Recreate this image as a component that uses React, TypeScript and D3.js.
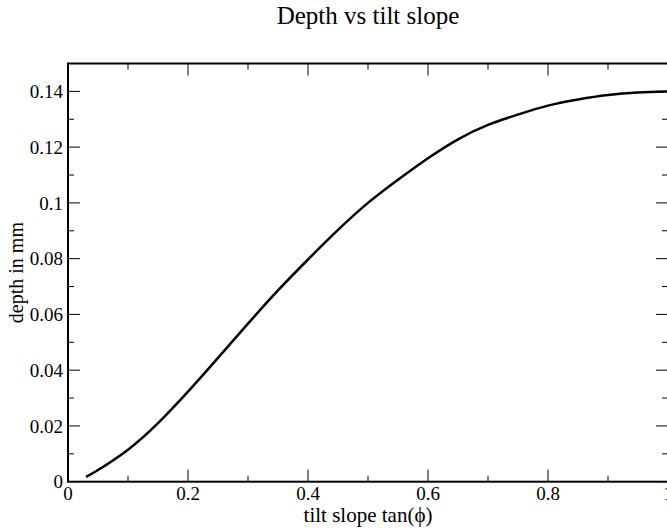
import React from "react";
import * as d3 from "d3";

const xValues = [0.03, 0.05, 0.1, 0.15, 0.2, 0.25, 0.3, 0.35, 0.4, 0.45, 0.5, 0.55, 0.6, 0.65, 0.7, 0.75, 0.8, 0.85, 0.9, 0.95, 1.0];
const depthValues = [0.0017, 0.0042, 0.0115, 0.0210, 0.0323, 0.0444, 0.0567, 0.0686, 0.0797, 0.0903, 0.1000, 0.1083, 0.1160, 0.1228, 0.1280, 0.1317, 0.1349, 0.1371, 0.1387, 0.1396, 0.1400];
const xMajorTicks = [0, 0.2, 0.4, 0.6, 0.8, 1];
const xTickLabels = ["0", "0.2", "0.4", "0.6", "0.8", "1"];
const xMinorTicks = [0.1, 0.3, 0.5, 0.7, 0.9];
const yMajorTicks = [0, 0.02, 0.04, 0.06, 0.08, 0.1, 0.12, 0.14];
const yTickLabels = ["0", "0.02", "0.04", "0.06", "0.08", "0.1", "0.12", "0.14"];
const yMinorTicks = [0.01, 0.03, 0.05, 0.07, 0.09, 0.11, 0.13];

const W = 667;
const H = 529;
const left = 68;
const right = 668;
const top = 63.5;
const bottom = 481.7;
const FONT = "'Liberation Serif', 'Times New Roman', serif";

export default function App() {
  const x = d3.scaleLinear().domain([0, 1]).range([left, right]);
  const y = d3.scaleLinear().domain([0, 0.15]).range([bottom, top]);
  const data = xValues.map((v, i) => [v, depthValues[i]] as [number, number]);
  const line = d3
    .line<[number, number]>()
    .x((d) => x(d[0]))
    .y((d) => y(d[1]))
    .curve(d3.curveNatural);

  const majorLen = 12;
  const minorLen = 6;

  return (
    <svg
      width={W}
      height={H}
      style={{ position: "absolute", left: 0, top: 0, background: "#fff" }}
      fontFamily={FONT}
    >
      <rect x={0} y={0} width={W} height={H} fill="#fff" />
      <text x={(left + right) / 2} y={24} textAnchor="middle" fontSize={25} fill="#000">
        Depth vs tilt slope
      </text>

      {/* ticks */}
      <g stroke="#000" strokeWidth={1}>
        {xMajorTicks.map((t) => (
          <g key={"xM" + t}>
            <line x1={x(t)} x2={x(t)} y1={bottom} y2={bottom - majorLen} />
            <line x1={x(t)} x2={x(t)} y1={top} y2={top + majorLen} />
          </g>
        ))}
        {xMinorTicks.map((t) => (
          <g key={"xm" + t}>
            <line x1={x(t)} x2={x(t)} y1={bottom} y2={bottom - minorLen} />
            <line x1={x(t)} x2={x(t)} y1={top} y2={top + minorLen} />
          </g>
        ))}
        {yMajorTicks.map((t) => (
          <g key={"yM" + t}>
            <line x1={left} x2={left + majorLen} y1={y(t)} y2={y(t)} />
            <line x1={right} x2={right - majorLen} y1={y(t)} y2={y(t)} />
          </g>
        ))}
        {yMinorTicks.map((t) => (
          <g key={"ym" + t}>
            <line x1={left} x2={left + minorLen} y1={y(t)} y2={y(t)} />
            <line x1={right} x2={right - minorLen} y1={y(t)} y2={y(t)} />
          </g>
        ))}
      </g>

      {/* frame */}
      <rect
        x={left}
        y={top}
        width={right - left}
        height={bottom - top}
        fill="none"
        stroke="#000"
        strokeWidth={2}
      />

      {/* curve */}
      <path d={line(data) || ""} fill="none" stroke="#000" strokeWidth={2.5} />

      {/* tick labels */}
      {xMajorTicks.map((t, i) => (
        <text key={"xl" + t} x={x(t)} y={500} textAnchor="middle" fontSize={19} fill="#000">
          {xTickLabels[i]}
        </text>
      ))}
      {yMajorTicks.map((t, i) => (
        <text
          key={"yl" + t}
          x={63}
          y={y(t)}
          dy="0.35em"
          textAnchor="end"
          fontSize={19}
          fill="#000"
        >
          {yTickLabels[i]}
        </text>
      ))}

      <text x={(left + right) / 2} y={521.5} textAnchor="middle" fontSize={21} fill="#000">
        tilt slope tan(ϕ)
      </text>
      <text
        transform={`translate(23,${(top + bottom) / 2}) rotate(-90)`}
        textAnchor="middle"
        fontSize={20}
        fill="#000"
      >
        depth in mm
      </text>
    </svg>
  );
}
